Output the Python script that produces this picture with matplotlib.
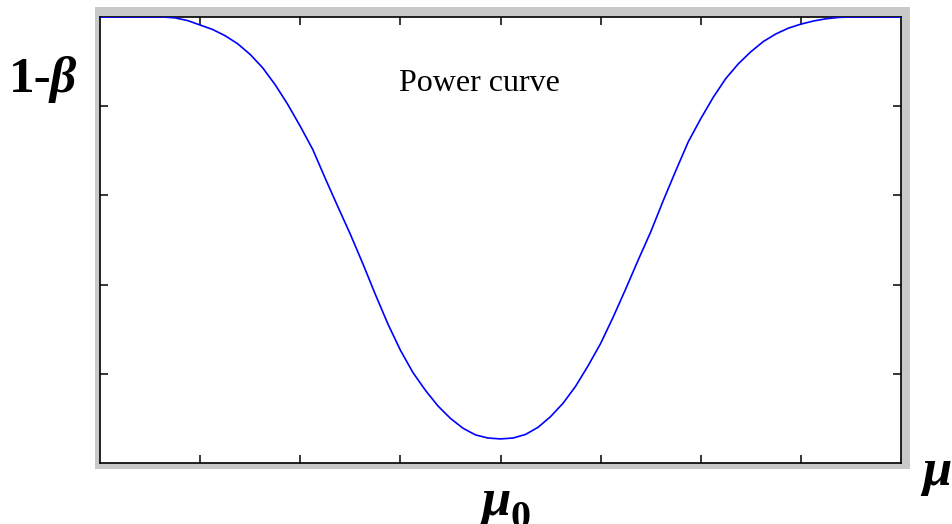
import matplotlib.pyplot as plt
from matplotlib.patches import Rectangle

# power curve (mean shift on x, 1-beta on y)
mu = [0.0, 0.625, 0.75, 0.875, 1.0, 1.125, 1.25, 1.375, 1.5, 1.625, 1.75, 1.875,
      2.0, 2.125, 2.25, 2.375, 2.5, 2.625, 2.75, 2.875, 3.0, 3.125, 3.25, 3.375,
      3.5, 3.625, 3.75, 3.875, 4.0, 4.125, 4.25, 4.375, 4.5, 4.625, 4.75, 4.875,
      5.0, 5.125, 5.25, 5.375, 5.5, 5.625, 5.75, 5.875, 6.0, 6.125, 6.25, 6.375,
      6.5, 6.625, 6.75, 6.875, 7.0, 7.125, 7.25, 7.375, 7.5, 8.0]
power = [1.0, 1.0, 0.998, 0.992, 0.982, 0.972, 0.958, 0.940, 0.916, 0.886, 0.848, 0.804,
         0.755, 0.703, 0.638, 0.575, 0.513, 0.447, 0.378, 0.312, 0.253, 0.203, 0.163, 0.128,
         0.100, 0.078, 0.063, 0.056, 0.054, 0.056, 0.064, 0.080, 0.104, 0.134, 0.172, 0.218,
         0.268, 0.327, 0.390, 0.455, 0.518, 0.588, 0.655, 0.720, 0.772, 0.820, 0.862, 0.895,
         0.922, 0.945, 0.962, 0.975, 0.984, 0.991, 0.996, 0.999, 1.0, 1.0]
x_ticks = [1, 2, 3, 4, 5, 6, 7]
y_ticks = [0.2, 0.4, 0.6, 0.8]

W, H = 952, 524
fig = plt.figure(figsize=(W / 100, H / 100), dpi=100, facecolor="white")

# grey frame behind the axes
fig.patches.append(Rectangle((95 / W, (H - 469) / H), 815 / W, 462 / H,
                             transform=fig.transFigure, facecolor="#c9c9c9",
                             edgecolor="none", zorder=-5))

ax = fig.add_axes([100 / W, (H - 463) / H, 801 / W, 446 / H])
ax.set_zorder(1)
ax.set_facecolor("white")
ax.plot(mu, power, color="#0000ff", lw=1.2, zorder=3)

ax.set_xlim(0, 8)
ax.set_ylim(0, 1)
ax.set_xticks(x_ticks)
ax.set_yticks(y_ticks)
ax.set_xticklabels([])
ax.set_yticklabels([])
ax.tick_params(direction="in", length=6, width=1.1, top=True, right=True, color="black")
for s in ax.spines.values():
    s.set_linewidth(1.2)
    s.set_color("black")

ax.text(0.474, 0.835, "Power curve", transform=ax.transAxes, ha="center",
        va="baseline", family="Liberation Serif", fontsize=23)

# labels around the frame (pixel positions converted to figure fractions)
fig.text(9 / W, (H - 92) / H, "1-", family="Liberation Serif", fontweight="bold",
         fontsize=37, va="baseline", ha="left")
fig.text(50 / W, (H - 92) / H, "β", family="Liberation Serif", fontweight="bold",
         style="italic", fontsize=37, va="baseline", ha="left")
fig.text(481 / W, (H - 515) / H, "μ", family="Liberation Serif", fontweight="bold",
         style="italic", fontsize=38, va="baseline", ha="left")
fig.text(511 / W, (H - 528) / H, "0", family="Liberation Serif", fontweight="bold",
         fontsize=29, va="baseline", ha="left")
fig.text(922 / W, (H - 485) / H, "μ", family="Liberation Serif", fontweight="bold",
         style="italic", fontsize=38, va="baseline", ha="left")

fig.savefig("out.png", dpi=100)
